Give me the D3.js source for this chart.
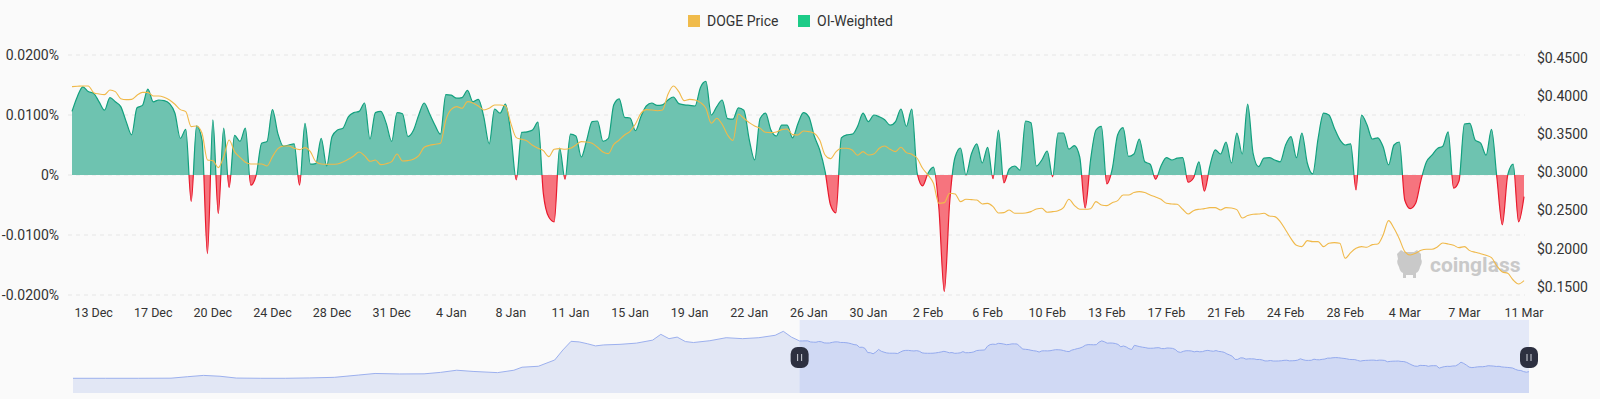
<!DOCTYPE html>
<html><head><meta charset="utf-8">
<script src="https://cdn.jsdelivr.net/npm/d3@7/dist/d3.min.js"></script>
<style>
html,body{margin:0;padding:0;background:#fafafa;}
svg{display:block;font-family:Roboto,"Noto Sans",sans-serif;}
</style></head><body>
<svg id="chart" width="1600" height="399"></svg>
<script>
// ---------------- DATA ----------------
const startTime = "2024-12-12T00:00:00Z";   // first 8h funding interval
const stepHours = 8;

// OI-weighted funding rate, in percent
const fundingRate = [
0.0106,0.0131,0.0147,0.0139,0.0136,0.0122,0.0108,0.0129,0.0122,0.0114,
0.0089,0.0067,0.0112,0.0116,0.0143,0.0122,0.0125,0.0124,0.0119,0.0103,
0.0061,0.0076,-0.0044,0.0082,0.0058,-0.0131,0.0092,-0.0064,0.0078,-0.0021,
0.0066,0.0056,0.0078,-0.0017,0,0.0053,0.0056,0.0109,0.0069,0.0048,
0.0050,0.0052,-0.0017,0.0086,0.0018,0.0019,0.0061,0.0015,0.0064,0.0075,
0.0078,0.0097,0.0104,0.0106,0.0120,0.0060,0.0104,0.0106,0.0086,0.0056,
0.0104,0.0102,0.0064,0.0074,0.0100,0.0120,0.0102,0.0083,0.0068,0.0134,
0.0133,0.0128,0.0129,0.0141,0.0122,0.0126,0.0097,0.0052,0.0110,0.0103,
0.0118,0.0069,-0.0008,0.0071,0.0072,0.0075,0.0088,-0.0031,-0.0070,-0.0078,
0.0045,-0.0007,0.0068,0.0065,0.0030,0.0058,0.0089,0.0090,0.0056,0.0061,
0.0117,0.0127,0.0096,0.0095,0.0074,0.0097,0.0115,0.0120,0.0116,0.0117,
0.0125,0.0130,0.0119,0.0117,0.0116,0.0115,0.0146,0.0156,0.0100,0.0114,
0.0125,0.0094,0.0093,0.0112,0.0108,0.0059,0.0025,0.0094,0.0103,0.0075,
0.0065,0.0083,0.0083,0.0062,0.0086,0.0104,0.0097,0.0065,0.0042,0.0006,
-0.0050,-0.0063,0.0062,0.0067,0.0068,0.0081,0.0103,0.0089,0.0100,0.0097,
0.0092,0.0083,0.0089,0.0110,0.0081,0.0110,0.0003,-0.0018,0.0003,0.0013,
-0.0055,-0.0194,-0.0045,0.0030,0.0045,0,0.0035,0.0052,0.0020,0.0046,
-0.0006,0.0075,-0.0013,0.0010,0.0015,0.0008,0.0090,0.0087,0.0015,0.0025,
0.0040,-0.0003,0.0070,0.0070,0.0043,0.0049,0.0030,-0.0055,0.0025,0.0075,
0.0081,-0.0015,0.0010,0.0067,0.0079,0.0031,0.0035,0.0060,0.0022,0.0018,
-0.0007,0.0015,0.0029,0.0025,0.0028,0.0029,-0.0012,-0.0005,0.0022,-0.0027,
0.0014,0.0042,0.0035,0.0055,0.0020,0.0070,0.0035,0.0118,0.0036,0.0014,
0.0028,0.0029,0.0025,0.0022,0.0050,0.0064,0.0029,0.0070,0.0020,0.0002,
0.0061,0.0103,0.0100,0.0078,0.0059,0.0050,0.0052,-0.0025,0.0100,0.0084,
0.0060,0.0062,0.0047,0.0017,0.0050,0.0055,-0.0042,-0.0056,-0.0047,-0.0008,
0.0022,0.0033,0.0044,0.0048,0.0072,-0.0022,-0.0010,0.0085,0.0086,0.0058,
0.0053,0.0033,0.0076,-0.0005,-0.0083,0,0.0018,-0.0078,-0.0036
];

// DOGE price, USD
const dogePrice = [
0.4128,0.4132,0.4137,0.4137,0.4049,0.4031,0.4023,0.4084,0.4062,0.3970,
0.3957,0.3961,0.4014,0.4053,0.4053,0.4005,0.4005,0.3988,0.3953,0.3896,
0.3826,0.3800,0.3602,0.3611,0.3515,0.3165,0.3156,0.3064,0.3208,0.3427,
0.3274,0.3200,0.3134,0.3112,0.3112,0.3112,0.3086,0.3208,0.3313,0.3348,
0.3348,0.3318,0.3300,0.3327,0.3274,0.3143,0.3112,0.3108,0.3108,0.3112,
0.3138,0.3173,0.3217,0.3270,0.3221,0.3147,0.3164,0.3103,0.3116,0.3143,
0.3243,0.3151,0.3156,0.3173,0.3221,0.3331,0.3357,0.3370,0.3383,0.3690,
0.3830,0.3865,0.3843,0.3931,0.3913,0.3874,0.3821,0.3843,0.3887,0.3887,
0.3874,0.3646,0.3458,0.3436,0.3414,0.3357,0.3318,0.3287,0.3208,0.3305,
0.3313,0.3305,0.3318,0.3362,0.3405,0.3401,0.3383,0.3331,0.3270,0.3248,
0.3370,0.3427,0.3493,0.3541,0.3637,0.3777,0.3826,0.3821,0.3812,0.3821,
0.4027,0.4137,0.4062,0.3944,0.3961,0.3953,0.3918,0.3843,0.3646,0.3712,
0.3633,0.3493,0.3420,0.3769,0.3712,0.3655,0.3611,0.3580,0.3528,0.3524,
0.3532,0.3563,0.3572,0.3497,0.3493,0.3545,0.3537,0.3515,0.3427,0.3230,
0.3182,0.3270,0.3318,0.3318,0.3296,0.3226,0.3274,0.3230,0.3243,0.3318,
0.3348,0.3305,0.3274,0.3331,0.3261,0.3239,0.3187,0.3055,0.2968,0.2858,
0.2595,0.2604,0.2727,0.2718,0.2617,0.2648,0.2644,0.2639,0.2587,0.2595,
0.2552,0.2469,0.2473,0.2508,0.2464,0.2464,0.2469,0.2486,0.2521,0.2530,
0.2477,0.2486,0.2499,0.2539,0.2648,0.2569,0.2517,0.2517,0.2525,0.2617,
0.2574,0.2565,0.2604,0.2630,0.2705,0.2705,0.2736,0.2749,0.2736,0.2705,
0.2679,0.2648,0.2596,0.2587,0.2582,0.2517,0.2455,0.2499,0.2517,0.2525,
0.2539,0.2539,0.2508,0.2539,0.2534,0.2512,0.2403,0.2434,0.2451,0.2455,
0.2464,0.2429,0.2420,0.2355,0.2245,0.2131,0.2044,0.2026,0.2105,0.2092,
0.2092,0.2026,0.2070,0.2079,0.2070,0.1873,0.1947,0.2004,0.2026,0.2018,
0.2053,0.2061,0.2180,0.2368,0.2267,0.2127,0.1961,0.1917,0.1939,0.1978,
0.1991,0.1991,0.2022,0.2074,0.2061,0.2044,0.2013,0.2026,0.1974,0.1952,
0.1934,0.1913,0.1882,0.1772,0.1694,0.1676,0.1588,0.1536,0.1580
];

// x-axis tick labels and the 8h intervals they sit on
const tickLabels = ["13 Dec","17 Dec","20 Dec","24 Dec","28 Dec","31 Dec","4 Jan","8 Jan","11 Jan","15 Jan","19 Jan","22 Jan","26 Jan","30 Jan","2 Feb","6 Feb","10 Feb","13 Feb","17 Feb","21 Feb","24 Feb","28 Feb","4 Mar","7 Mar","11 Mar"];
const tickTimes = ["2024-12-13T08:00:00Z","2024-12-17T00:00:00Z","2024-12-20T16:00:00Z","2024-12-24T08:00:00Z","2024-12-28T00:00:00Z","2024-12-31T16:00:00Z","2025-01-04T08:00:00Z","2025-01-08T00:00:00Z","2025-01-11T16:00:00Z","2025-01-15T08:00:00Z","2025-01-19T00:00:00Z","2025-01-22T16:00:00Z","2025-01-26T08:00:00Z","2025-01-30T00:00:00Z","2025-02-02T16:00:00Z","2025-02-06T08:00:00Z","2025-02-10T00:00:00Z","2025-02-13T16:00:00Z","2025-02-17T08:00:00Z","2025-02-21T00:00:00Z","2025-02-24T16:00:00Z","2025-02-28T08:00:00Z","2025-03-04T00:00:00Z","2025-03-07T16:00:00Z","2025-03-11T08:00:00Z"];

const leftTicks = [-0.02,-0.01,0,0.01,0.02];
const rightTicks = [0.15,0.20,0.25,0.30,0.35,0.40,0.45];

// earlier DOGE price history shown only in the zoom slider
const historyDates = ["2024-09-14","2024-09-18","2024-09-22","2024-09-26","2024-09-28","2024-09-30","2024-10-02","2024-10-04","2024-10-07","2024-10-10","2024-10-13","2024-10-16","2024-10-19","2024-10-21","2024-10-24","2024-10-27","2024-10-29","2024-10-31","2024-11-02","2024-11-05","2024-11-07","2024-11-08","2024-11-10","2024-11-12","2024-11-13","2024-11-14","2024-11-15","2024-11-16","2024-11-17","2024-11-18","2024-11-20","2024-11-22","2024-11-24","2024-11-25","2024-11-26","2024-11-27","2024-11-28","2024-11-29","2024-12-01","2024-12-03","2024-12-05","2024-12-07","2024-12-09","2024-12-10","2024-12-11"];
const historyPrice = [0.103,0.103,0.103,0.104,0.116,0.127,0.120,0.105,0.103,0.103,0.106,0.111,0.130,0.143,0.139,0.140,0.152,0.170,0.160,0.150,0.170,0.195,0.203,0.255,0.338,0.410,0.405,0.390,0.372,0.380,0.385,0.395,0.420,0.468,0.432,0.445,0.408,0.400,0.415,0.440,0.432,0.440,0.460,0.493,0.445];

const seriesNames = ["DOGE Price","OI-Weighted"];
const seriesColors = ["#f0bb4b","#1ccb87"];

// ---------------- CHART ----------------
const svg = d3.select("#chart");
const t0 = Date.parse(startTime);
const times = fundingRate.map((_, i) => new Date(t0 + i * stepHours * 3600e3));

const x = d3.scaleTime().domain([times[0], times[times.length - 1]]).range([72, 1524]);
const yF = d3.scaleLinear().domain([-0.02, 0.02]).range([295, 55]);
const yP = d3.scaleLinear().domain([0.15, 0.45]).range([286.7, 58.3]);

const defs = svg.append("defs");
defs.append("clipPath").attr("id", "above").append("rect")
  .attr("x", 0).attr("y", 0).attr("width", 1600).attr("height", yF(0));
defs.append("clipPath").attr("id", "below").append("rect")
  .attr("x", 0).attr("y", yF(0)).attr("width", 1600).attr("height", 399 - yF(0));

// grid lines
svg.append("g").selectAll("line").data(leftTicks).join("line")
  .attr("x1", 68).attr("x2", 1525)
  .attr("y1", d => yF(d)).attr("y2", d => yF(d))
  .attr("stroke", "#e6e6e6").attr("stroke-dasharray", "4,4");

// left axis labels
svg.append("g").selectAll("text").data(leftTicks).join("text")
  .attr("x", 59).attr("y", d => yF(d)).attr("dy", "0.35em")
  .attr("text-anchor", "end").attr("font-size", 14).attr("fill", "#333")
  .text(d => d === 0 ? "0%" : d.toFixed(4) + "%");

// right axis labels
svg.append("g").selectAll("text").data(rightTicks).join("text")
  .attr("x", 1537).attr("y", d => yP(d)).attr("dy", "0.35em")
  .attr("text-anchor", "start").attr("font-size", 14).attr("fill", "#333")
  .text(d => "$" + d.toFixed(4));

// x axis labels
svg.append("g").selectAll("text").data(tickLabels).join("text")
  .attr("x", (d, i) => x(new Date(tickTimes[i]))).attr("y", 313).attr("dy", "0.35em")
  .attr("text-anchor", "middle").attr("font-size", 12.5).attr("fill", "#333")
  .text(d => d);

// funding area
const fData = fundingRate.map((v, i) => ({ t: times[i], v }));
const area = d3.area().x(d => x(d.t)).y0(yF(0)).y1(d => yF(d.v)).curve(d3.curveMonotoneX);
const fline = d3.line().x(d => x(d.t)).y(d => yF(d.v)).curve(d3.curveMonotoneX);
svg.append("path").datum(fData).attr("d", area).attr("fill", "#6ec3b0").attr("clip-path", "url(#above)");
svg.append("path").datum(fData).attr("d", area).attr("fill", "#f6747e").attr("clip-path", "url(#below)");
svg.append("path").datum(fData).attr("d", fline).attr("fill", "none").attr("stroke", "#12a07e").attr("stroke-width", 1.2).attr("clip-path", "url(#above)");
svg.append("path").datum(fData).attr("d", fline).attr("fill", "none").attr("stroke", "#e8192c").attr("stroke-width", 1.2).attr("clip-path", "url(#below)");

// watermark
const wm = svg.append("g").attr("fill", "#c9c9c9");
wm.append("path").attr("d", "M1397,254 l4,-4 l3,2 h10 l3,-2 l4,4 v5 q2,3 -1,8 q-1,5 -4,6 v5 h-3 v-3 h-7 v3 h-3 v-5 q-3,-1 -4,-6 q-3,-5 -1,-8 z");
wm.append("text").attr("x", 1430).attr("y", 272).attr("font-size", 21).attr("font-weight", "bold")
  .attr("font-family", "Roboto, sans-serif").text("coinglass");

// price line
const pData = dogePrice.map((v, i) => ({ t: times[i], v }));
svg.append("path").datum(pData)
  .attr("d", d3.line().x(d => x(d.t)).y(d => yP(d.v)).curve(d3.curveMonotoneX))
  .attr("fill", "none").attr("stroke", "#f0b94a").attr("stroke-width", 1.1);

// legend
const lg = svg.append("g");
const legendX = [688, 798];
seriesNames.forEach((n, i) => {
  lg.append("rect").attr("x", legendX[i]).attr("y", 15).attr("width", 12).attr("height", 12).attr("fill", seriesColors[i]);
  lg.append("text").attr("x", legendX[i] + 19).attr("y", 21).attr("dy", "0.35em")
    .attr("font-size", 14).attr("fill", "#333").text(n);
});

// ---------------- SLIDER ----------------
const sDates = historyDates.map(d => new Date(d + "T00:00:00Z")).concat(times);
const sVals = historyPrice.concat(dogePrice);
const sData = sDates.map((t, i) => ({ t, v: sVals[i] }));
const sx = d3.scaleTime().domain([sDates[0], sDates[sDates.length - 1]]).range([73, 1529]);
const sy = d3.scaleLinear().domain([0, 0.587]).range([390.7, 320]);
const sg = svg.append("g");
sg.append("path").datum(sData)
  .attr("d", d3.area().x(d => sx(d.t)).y0(393).y1(d => sy(d.v)))
  .attr("fill", "#e2e7f5");
sg.append("path").datum(sData)
  .attr("d", d3.line().x(d => sx(d.t)).y(d => sy(d.v)))
  .attr("fill", "none").attr("stroke", "#9cb0ee").attr("stroke-width", 1);
const selX0 = sx(times[0]), selX1 = sx(times[times.length - 1]);
sg.append("rect").attr("x", selX0).attr("y", 320).attr("width", selX1 - selX0).attr("height", 73)
  .attr("fill", "rgba(110,140,240,0.15)");
[selX0, selX1].forEach(hx => {
  sg.append("rect").attr("x", hx - 9).attr("y", 347).attr("width", 18).attr("height", 21)
    .attr("rx", 7).attr("fill", "#2d3040");
  [-2, 2].forEach(o => sg.append("line").attr("x1", hx + o).attr("x2", hx + o)
    .attr("y1", 354).attr("y2", 361).attr("stroke", "#d0d2da").attr("stroke-width", 1));
});
</script>
</body></html>
